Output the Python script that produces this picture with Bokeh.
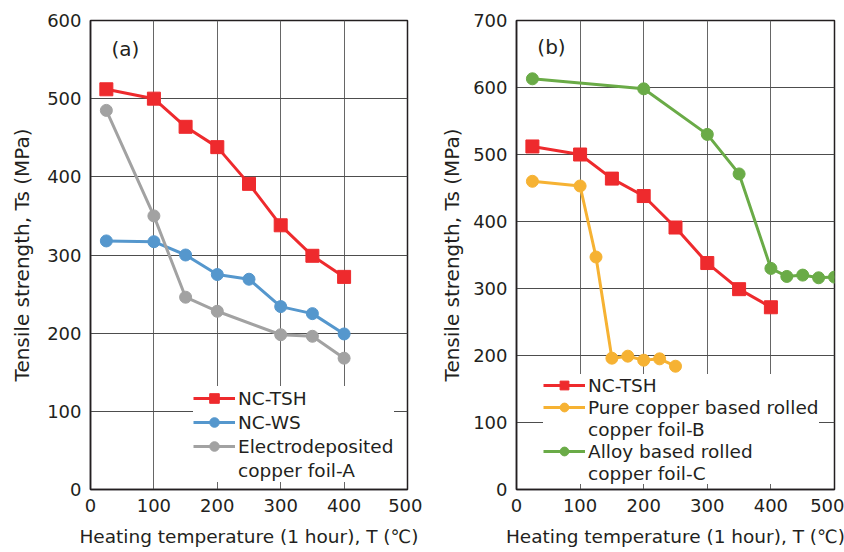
from bokeh.plotting import figure
from bokeh.layouts import row
from bokeh.models import Range1d, FixedTicker, Legend, LegendItem, Label
from bokeh.embed import file_html
from bokeh.resources import INLINE

# ---------------- data ----------------
temp_tsh = [25, 100, 150, 200, 250, 300, 350, 400]
nc_tsh = [512, 500, 464, 438, 391, 338, 299, 272]
temp_ws = [25, 100, 150, 200, 250, 300, 350, 400]
nc_ws = [318, 317, 300, 275, 269, 234, 225, 199]
temp_ed = [25, 100, 150, 200, 300, 350, 400]
ed_foil_a = [485, 350, 246, 228, 198, 196, 168]
temp_pure = [25, 100, 125, 150, 175, 200, 225, 250]
pure_foil_b = [460, 453, 347, 196, 199, 193, 195, 184]
temp_alloy = [25, 200, 300, 350, 400, 425, 450, 475, 500]
alloy_foil_c = [613, 598, 530, 471, 330, 318, 320, 316, 317]
x_ticks = [0, 100, 200, 300, 400, 500]
y_ticks_a = [0, 100, 200, 300, 400, 500, 600]
y_ticks_b = [0, 100, 200, 300, 400, 500, 600, 700]

RED = "#EE2A2D"
BLUE = "#5597CD"
GREY = "#A2A2A2"
ORANGE = "#F6B233"
GREEN = "#6AAB47"
INK = "#231F20"
FONT = "DejaVu Sans"

X_TITLE = "Heating temperature (1 hour), T (\u2103)"
Y_TITLE = "Tensile strength, Ts (MPa)"


def make_fig(ymax, yticks, width, bl, br, ylab_standoff):
    p = figure(width=width, height=552, x_range=Range1d(0, 500), y_range=Range1d(0, ymax),
               output_backend="svg", toolbar_location=None,
               min_border_left=bl, min_border_right=br, min_border_top=20, min_border_bottom=63)
    p.xaxis.ticker = FixedTicker(ticks=x_ticks)
    p.yaxis.ticker = FixedTicker(ticks=yticks)
    for ax in (p.xaxis, p.yaxis):
        ax.major_label_text_font = FONT
        ax.major_label_text_font_size = "18px"
        ax.major_label_text_color = INK
        ax.axis_line_color = INK
        ax.axis_line_width = 1.5
        ax.major_tick_line_color = None
        ax.minor_tick_line_color = None
        ax.major_tick_out = 0
        ax.major_tick_in = 0
        ax.axis_label_text_font = FONT
        ax.axis_label_text_font_style = "normal"
        ax.axis_label_text_color = INK
    p.xaxis.axis_label = X_TITLE
    p.xaxis.axis_label_text_font_size = "18.5px"
    p.xaxis.axis_label_standoff = 11
    p.yaxis.axis_label = Y_TITLE
    p.yaxis.axis_label_text_font_size = "20px"
    p.yaxis.axis_label_standoff = ylab_standoff
    p.xaxis.major_label_standoff = 9
    p.yaxis.major_label_standoff = 9
    p.xgrid.grid_line_color = "#666666"
    p.ygrid.grid_line_color = "#4d4d4d"
    p.xgrid.grid_line_width = 1
    p.ygrid.grid_line_width = 1
    p.outline_line_color = INK
    p.outline_line_width = 1.5
    p.outline_line_alpha = 1
    p.background_fill_color = "white"
    p.border_fill_color = "white"
    return p


def add_series(p, x, y, color, marker, size):
    l = p.line(x, y, line_color=color, line_width=3)
    s = p.scatter(x, y, marker=marker, size=size, fill_color=color, line_color=color)
    return [l, s]


def blank(p):
    return [p.line(x=[], y=[], line_alpha=0)]


def make_legend(items, loc, glyph_h):
    return Legend(items=items, location=loc, background_fill_color="white",
                  background_fill_alpha=1, border_line_color=None, label_text_font=FONT,
                  label_text_font_size="18.5px", label_text_color=INK, glyph_width=42,
                  glyph_height=glyph_h, label_standoff=3, spacing=0, padding=2, margin=0,
                  label_height=glyph_h)


# ---------------- panel (a) ----------------
pa = make_fig(600, y_ticks_a, 422, 90, 15, 10)
r_tsh = add_series(pa, temp_tsh, nc_tsh, RED, "square", 13)
r_ws = add_series(pa, temp_ws, nc_ws, BLUE, "circle", 12)
r_ed = add_series(pa, temp_ed, ed_foil_a, GREY, "circle", 12)
leg_a = make_legend([LegendItem(label="NC-TSH", renderers=r_tsh),
                     LegendItem(label="NC-WS", renderers=r_ws),
                     LegendItem(label="Electrodeposited", renderers=r_ed),
                     LegendItem(label="copper foil-A", renderers=blank(pa))],
                    (103, 7), 24)
pa.add_layout(leg_a)
pa.add_layout(Label(x=55, y=564, text="(a)", text_font=FONT, text_font_size="20px",
                    text_color=INK, text_align="center", text_baseline="middle"))

# ---------------- panel (b) ----------------
pb = make_fig(700, y_ticks_b, 422, 94, 10, 6)
r_tsh_b = add_series(pb, temp_tsh, nc_tsh, RED, "square", 13)
r_pure = add_series(pb, temp_pure, pure_foil_b, ORANGE, "circle", 12)
r_alloy = add_series(pb, temp_alloy, alloy_foil_c, GREEN, "circle", 12)
leg_b = make_legend([LegendItem(label="NC-TSH", renderers=r_tsh_b),
                     LegendItem(label="Pure copper based rolled", renderers=r_pure),
                     LegendItem(label="copper foil-B", renderers=blank(pb)),
                     LegendItem(label="Alloy based rolled", renderers=r_alloy),
                     LegendItem(label="copper foil-C", renderers=blank(pb))],
                    (27, 5), 22)
pb.add_layout(leg_b)
pb.add_layout(Label(x=55, y=660, text="(b)", text_font=FONT, text_font_size="20px",
                    text_color=INK, text_align="center", text_baseline="middle"))

layout = row(pa, pb)
open("out.html", "w").write(file_html(layout, INLINE))
